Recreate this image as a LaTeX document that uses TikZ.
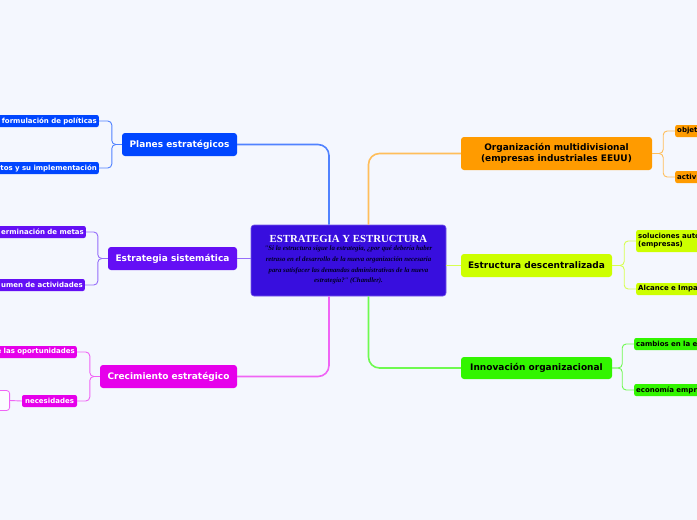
\documentclass[tikz,border=0pt]{standalone}
\usepackage{fontspec}
\setmainfont{DejaVu Sans}
\newfontfamily\serifx{Liberation Serif}
\begin{document}
\begin{tikzpicture}[x=1pt,y=-1pt,
  mainbox/.style={rounded corners=3pt,inner sep=0pt,align=center,font=\bfseries\fontsize{9}{10.5}\selectfont},
  kidbox/.style={rounded corners=2pt,inner sep=2pt,minimum height=12pt,font=\bfseries\fontsize{7}{8}\selectfont},
  mline/.style={line width=1.6pt,rounded corners=11pt},
  kline/.style={line width=0.9pt,rounded corners=4pt}]
\definecolor{bg}{RGB}{244,247,254}
\definecolor{cfill}{RGB}{56,14,222}
\definecolor{cblue}{RGB}{0,70,255}\definecolor{lblue}{RGB}{80,130,255}
\definecolor{cpur}{RGB}{100,15,245}\definecolor{lpur}{RGB}{150,110,250}
\definecolor{cmag}{RGB}{230,0,235}\definecolor{lmag}{RGB}{240,100,245}
\definecolor{corg}{RGB}{255,155,0}\definecolor{lorg}{RGB}{255,190,90}
\definecolor{cyel}{RGB}{205,255,0}\definecolor{lyel}{RGB}{215,255,80}
\definecolor{cgrn}{RGB}{50,245,0}\definecolor{lgrn}{RGB}{110,250,80}
\useasboundingbox (0,0) rectangle (697,520);
\fill[bg] (0,0) rectangle (697,520);
\clip (0,0) rectangle (697,520);
% central
\node[fill=cfill,draw=cfill!70!white,line width=0.6pt,rounded corners=3pt,minimum width=195pt,minimum height=71pt,inner sep=0pt] (c) at (348.5,260.5) {};
\node[font=\serifx\bfseries\fontsize{10.8}{12}\selectfont,text=white,inner sep=0pt] (ct) at (348.5,238.5) {ESTRATEGIA Y ESTRUCTURA};
\node[font=\serifx\bfseries\itshape\fontsize{6.8}{10.6}\selectfont,text=black!85!blue,align=center,inner sep=0pt,anchor=north] (cq) at (348.5,246) {"Si la estructura sigue la estrategia, ¿por qué debería haber\\retraso en el desarrollo de la nueva organización necesaria\\para satisfacer las demandas administrativas de la nueva\\estrategia?" (Chandler).};
% main nodes
\node[mainbox,fill=cblue,text=white,minimum width=115pt,minimum height=23pt] (p) at (179.5,144.5) {Planes estratégicos};
\node[mainbox,fill=cpur,text=white,minimum width=129pt,minimum height=23pt] (e) at (172.5,258.5) {Estrategia sistemática};
\node[mainbox,fill=cmag,text=white,minimum width=137pt,minimum height=23pt] (g) at (168.5,376.5) {Crecimiento estratégico};
\node[mainbox,fill=corg,text=black,minimum width=191pt,minimum height=33pt] (o) at (556.5,153.5) {Organización multidivisional\\(empresas industriales EEUU)};
\node[mainbox,fill=cyel,text=black,minimum width=151pt,minimum height=23pt] (d) at (536.5,265.5) {Estructura descentralizada};
\node[mainbox,fill=cgrn,text=black,minimum width=151pt,minimum height=22pt] (n) at (536.5,368) {Innovación organizacional};
% left children
\node[kidbox,fill=cblue,text=white,anchor=east,text width=110pt,align=right] (p1) at (99,121) {formulación de políticas};
\node[kidbox,fill=cblue,text=white,anchor=east,text width=110pt,align=right] (p2) at (99,168) {tos y su implementación};
\node[kidbox,fill=cpur,text=white,anchor=east,text width=100pt,align=right] (e1) at (86,232) {erminación de metas};
\node[kidbox,fill=cpur,text=white,anchor=east,text width=100pt,align=right] (e2) at (85,285) {umen de actividades};
\node[kidbox,fill=cmag,text=white,anchor=east,text width=100pt,align=right] (g1) at (77,352) {e las oportunidades};
\node[kidbox,fill=cmag,text=white,minimum width=55pt,inner sep=0pt] (g2) at (49.5,401) {necesidades};
\node[draw=lmag,line width=0.8pt,fill=white!60!bg,rounded corners=3pt,minimum width=30pt,minimum height=20pt,anchor=east,inner sep=0pt] (g3) at (10,400.5) {};
% right children
\node[kidbox,fill=corg,text=black,anchor=west,text width=60pt,align=left] (o1) at (675,131) {objet};
\node[kidbox,fill=corg,text=black,anchor=west,text width=60pt,align=left] (o2) at (675,177) {activ};
\node[kidbox,fill=cyel,text=black,anchor=west,text width=80pt,align=left,minimum height=22pt] (d1) at (636,241) {soluciones auto\\(empresas)};
\node[kidbox,fill=cyel,text=black,anchor=west,text width=80pt,align=left] (d2) at (636,289) {Alcance e Impa};
\node[kidbox,fill=cgrn,text=black,anchor=west,text width=80pt,align=left] (n1) at (634,344) {cambios en la e};
\node[kidbox,fill=cgrn,text=black,anchor=west,text width=80pt,align=left] (n2) at (634,390) {economía empr};
% main connectors
\draw[mline,draw=lblue] ([xshift=-19.5pt]c.north) |- (p.east);
\draw[mline,draw=lpur] (c.west |- e.east) -- (e.east);
\draw[mline,draw=lmag] ([xshift=-19.5pt]c.south) |- (g.east);
\draw[mline,draw=lorg] ([xshift=20pt]c.north) |- (o.west);
\draw[mline,draw=lyel] (c.east |- d.west) -- (d.west);
\draw[mline,draw=lgrn] ([xshift=20pt]c.south) |- (n.west);
% child connectors
\draw[kline,draw=lblue] (p.west) -- ++(-10,0) |- (p1.east);
\draw[kline,draw=lblue] (p.west) -- ++(-10,0) |- (p2.east);
\draw[kline,draw=lpur] (e.west) -- ++(-10,0) |- (e1.east);
\draw[kline,draw=lpur] (e.west) -- ++(-10,0) |- (e2.east);
\draw[kline,draw=lmag] (g.west) -- ++(-10,0) |- (g1.east);
\draw[kline,draw=lmag] (g.west) -- ++(-10,0) |- (g2.east);
\draw[kline,draw=lmag] (g2.west) -- (g3.east);
\draw[kline,draw=lorg] (o.east) -- ++(11,0) |- (o1.west);
\draw[kline,draw=lorg] (o.east) -- ++(11,0) |- (o2.west);
\draw[kline,draw=lyel] (d.east) -- ++(12,0) |- (d1.west);
\draw[kline,draw=lyel] (d.east) -- ++(12,0) |- (d2.west);
\draw[kline,draw=lgrn] (n.east) -- ++(10,0) |- (n1.west);
\draw[kline,draw=lgrn] (n.east) -- ++(10,0) |- (n2.west);
\end{tikzpicture}
\end{document}
